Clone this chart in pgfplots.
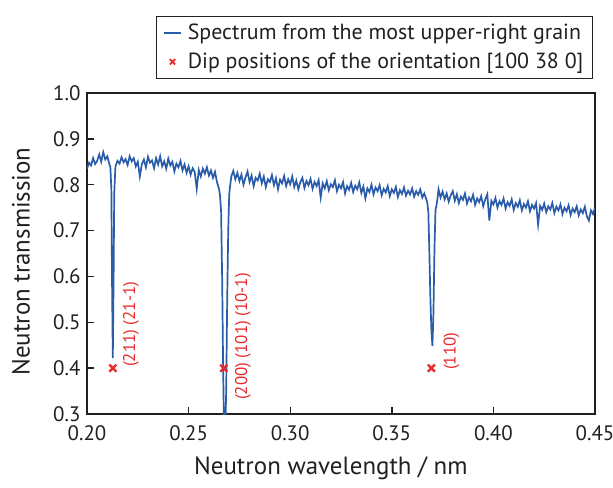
\documentclass[border=0pt]{standalone}
\usepackage{fontspec}
\setmainfont{PT Sans}
\usepackage{pgfplots}
\pgfplotsset{compat=1.18}
\definecolor{specblue}{HTML}{2A5CAA}
\definecolor{dipred}{HTML}{E8282B}
\definecolor{txt}{HTML}{231F20}
\begin{document}
\begin{tikzpicture}
\begin{axis}[
  scale only axis,
  width=508bp, height=321bp,
  xmin=0.20, xmax=0.45, ymin=0.3, ymax=1.0,
  xtick={0.20,0.25,0.30,0.35,0.40,0.45},
  ytick={0.3,0.4,0.5,0.6,0.7,0.8,0.9,1.0},
  xticklabel style={/pgf/number format/fixed,/pgf/number format/fixed zerofill,/pgf/number format/precision=2,/pgf/number format/assume math mode=true, yshift=-8bp},
  yticklabel style={/pgf/number format/fixed,/pgf/number format/fixed zerofill,/pgf/number format/precision=1,/pgf/number format/assume math mode=true, xshift=-3bp},
  tick label style={font=\fontsize{21}{25}\selectfont, text=txt},
  tick align=inside,
  xtick pos=bottom, ytick pos=left,
  major tick length=7bp,
  axis line style={line width=1.6bp, color=txt},
  every tick/.style={line width=1.4bp, color=txt},
  xlabel={Neutron wavelength / nm},
  ylabel={Neutron transmission},
  label style={font=\fontsize{25}{29}\selectfont, text=txt},
  xlabel style={at={(axis description cs:0.48,-0.168)}, anchor=center},
  ylabel style={at={(axis description cs:-0.13,0.475)}, anchor=center},
  legend style={at={(rel axis cs:1,1)}, anchor=south east, xshift=-2bp, yshift=14bp,
    font=\fontsize{22}{26}\selectfont, text=txt, draw=txt, line width=1.2bp,
    inner xsep=7bp, inner ysep=6bp, row sep=8bp, column sep=4bp},
  legend cell align=left,
]
\coordinate (O) at (rel axis cs:0,0);
\addplot[color=specblue, line width=1.7bp] coordinates {
(0.200,0.835)(0.201,0.848)(0.202,0.842)(0.203,0.858)(0.204,0.845)(0.205,0.852)(0.206,0.866)(0.207,0.850)(0.208,0.871)(0.209,0.855)
(0.210,0.862)(0.211,0.845)(0.2115,0.838)(0.2120,0.790)(0.2123,0.600)(0.2127,0.422)(0.2131,0.600)(0.2134,0.780)(0.2138,0.822)
(0.214,0.840)(0.215,0.852)(0.216,0.846)(0.217,0.860)(0.218,0.849)(0.219,0.856)(0.220,0.843)(0.221,0.862)(0.222,0.851)(0.223,0.858)
(0.224,0.840)(0.225,0.850)(0.226,0.818)(0.227,0.845)(0.228,0.855)(0.229,0.838)(0.230,0.861)(0.231,0.848)(0.232,0.853)(0.233,0.836)
(0.234,0.858)(0.235,0.844)(0.236,0.862)(0.237,0.840)(0.238,0.851)(0.239,0.835)(0.240,0.857)(0.241,0.842)(0.242,0.850)(0.243,0.829)
(0.244,0.846)(0.245,0.838)(0.246,0.852)(0.247,0.831)(0.248,0.844)(0.249,0.826)(0.250,0.840)(0.251,0.822)(0.252,0.836)(0.253,0.828)
(0.254,0.791)(0.255,0.832)(0.256,0.818)(0.257,0.835)(0.258,0.824)(0.259,0.838)(0.260,0.820)(0.261,0.831)(0.262,0.815)(0.263,0.828)
(0.264,0.805)(0.265,0.790)(0.2655,0.775)(0.266,0.74)(0.2665,0.60)(0.267,0.40)(0.2675,0.25)(0.268,0.25)(0.2685,0.35)(0.269,0.55)
(0.2695,0.70)(0.270,0.78)(0.2705,0.80)(0.271,0.818)(0.272,0.830)(0.273,0.812)(0.274,0.826)(0.275,0.808)(0.276,0.822)(0.277,0.800)
(0.278,0.816)(0.279,0.829)(0.280,0.806)(0.281,0.820)(0.282,0.797)(0.283,0.815)(0.284,0.809)(0.285,0.824)(0.286,0.803)(0.287,0.818)
(0.288,0.795)(0.289,0.812)(0.290,0.806)(0.291,0.821)(0.292,0.799)(0.293,0.814)(0.294,0.790)(0.295,0.811)(0.296,0.803)(0.297,0.819)
(0.298,0.797)(0.299,0.812)(0.300,0.801)(0.301,0.818)(0.302,0.795)(0.303,0.809)(0.304,0.790)(0.305,0.806)(0.306,0.815)(0.307,0.793)
(0.308,0.808)(0.309,0.799)(0.310,0.813)(0.311,0.791)(0.312,0.806)(0.313,0.797)(0.314,0.810)(0.315,0.772)(0.316,0.803)(0.317,0.792)
(0.318,0.808)(0.319,0.788)(0.320,0.801)(0.321,0.795)(0.322,0.810)(0.323,0.786)(0.324,0.800)(0.325,0.792)(0.326,0.806)(0.327,0.781)
(0.328,0.797)(0.329,0.789)(0.330,0.804)(0.331,0.784)(0.332,0.798)(0.333,0.790)(0.334,0.805)(0.335,0.782)(0.336,0.796)(0.337,0.770)
(0.338,0.792)(0.339,0.784)(0.340,0.800)(0.341,0.779)(0.342,0.794)(0.343,0.786)(0.344,0.799)(0.345,0.777)(0.346,0.791)(0.347,0.783)
(0.348,0.797)(0.349,0.775)(0.350,0.790)(0.351,0.782)(0.352,0.795)(0.353,0.773)(0.354,0.788)(0.355,0.780)(0.356,0.794)(0.357,0.776)
(0.358,0.787)(0.359,0.779)(0.360,0.792)(0.361,0.774)(0.362,0.786)(0.363,0.778)(0.364,0.790)(0.365,0.772)(0.366,0.781)(0.367,0.768)
(0.3675,0.760)(0.368,0.740)(0.3685,0.65)(0.369,0.55)(0.3695,0.48)(0.370,0.448)(0.3705,0.52)(0.371,0.66)(0.3715,0.745)(0.372,0.755)
(0.3725,0.770)(0.373,0.790)(0.374,0.772)(0.375,0.785)(0.376,0.768)(0.377,0.781)(0.378,0.763)(0.379,0.777)(0.380,0.786)(0.381,0.765)
(0.382,0.779)(0.383,0.760)(0.384,0.774)(0.385,0.767)(0.386,0.781)(0.387,0.759)(0.388,0.772)(0.389,0.764)(0.390,0.778)(0.391,0.756)
(0.392,0.770)(0.393,0.762)(0.394,0.775)(0.395,0.753)(0.396,0.768)(0.397,0.779)(0.398,0.722)(0.399,0.765)(0.400,0.757)(0.401,0.771)
(0.402,0.750)(0.403,0.764)(0.404,0.756)(0.405,0.770)(0.406,0.748)(0.407,0.762)(0.408,0.754)(0.409,0.768)(0.410,0.745)(0.411,0.760)
(0.412,0.752)(0.413,0.766)(0.414,0.744)(0.415,0.758)(0.416,0.750)(0.417,0.764)(0.418,0.742)(0.419,0.756)(0.420,0.748)(0.421,0.760)
(0.422,0.713)(0.423,0.754)(0.424,0.745)(0.425,0.759)(0.426,0.740)(0.427,0.753)(0.428,0.746)(0.429,0.760)(0.430,0.738)(0.431,0.752)
(0.432,0.744)(0.433,0.757)(0.434,0.736)(0.435,0.750)(0.436,0.742)(0.437,0.755)(0.438,0.734)(0.439,0.748)(0.440,0.740)(0.441,0.753)
(0.442,0.733)(0.443,0.746)(0.444,0.738)(0.445,0.752)(0.446,0.731)(0.447,0.722)(0.448,0.744)(0.449,0.736)(0.450,0.750)
};
\addlegendentry{Spectrum from the most upper-right grain}
\addplot[only marks, mark=x, mark size=5bp, color=dipred, line width=2.3bp,
  legend image post style={mark size=3.8bp, line width=1.8bp}] coordinates {
(0.2127,0.4)(0.2673,0.4)(0.3695,0.4)
};
\addlegendentry{Dip positions of the orientation [100 38 0]}
\node[rotate=90, anchor=west, inner sep=0pt, text=dipred, font=\fontsize{17}{20}\selectfont] at (axis cs:0.2216,0.4025) {(211) (21-1)};
\node[rotate=90, anchor=west, inner sep=0pt, text=dipred, font=\fontsize{17}{20}\selectfont] at (axis cs:0.2767,0.3305) {(200) (101) (10-1)};
\node[rotate=90, anchor=west, inner sep=0pt, text=dipred, font=\fontsize{17}{20}\selectfont] at (axis cs:0.3794,0.396) {(110)};
\end{axis}
\pgfresetboundingbox
\useasboundingbox (O) ++(-87bp,-74bp) rectangle ++(613bp,488bp);
\end{tikzpicture}
\end{document}
